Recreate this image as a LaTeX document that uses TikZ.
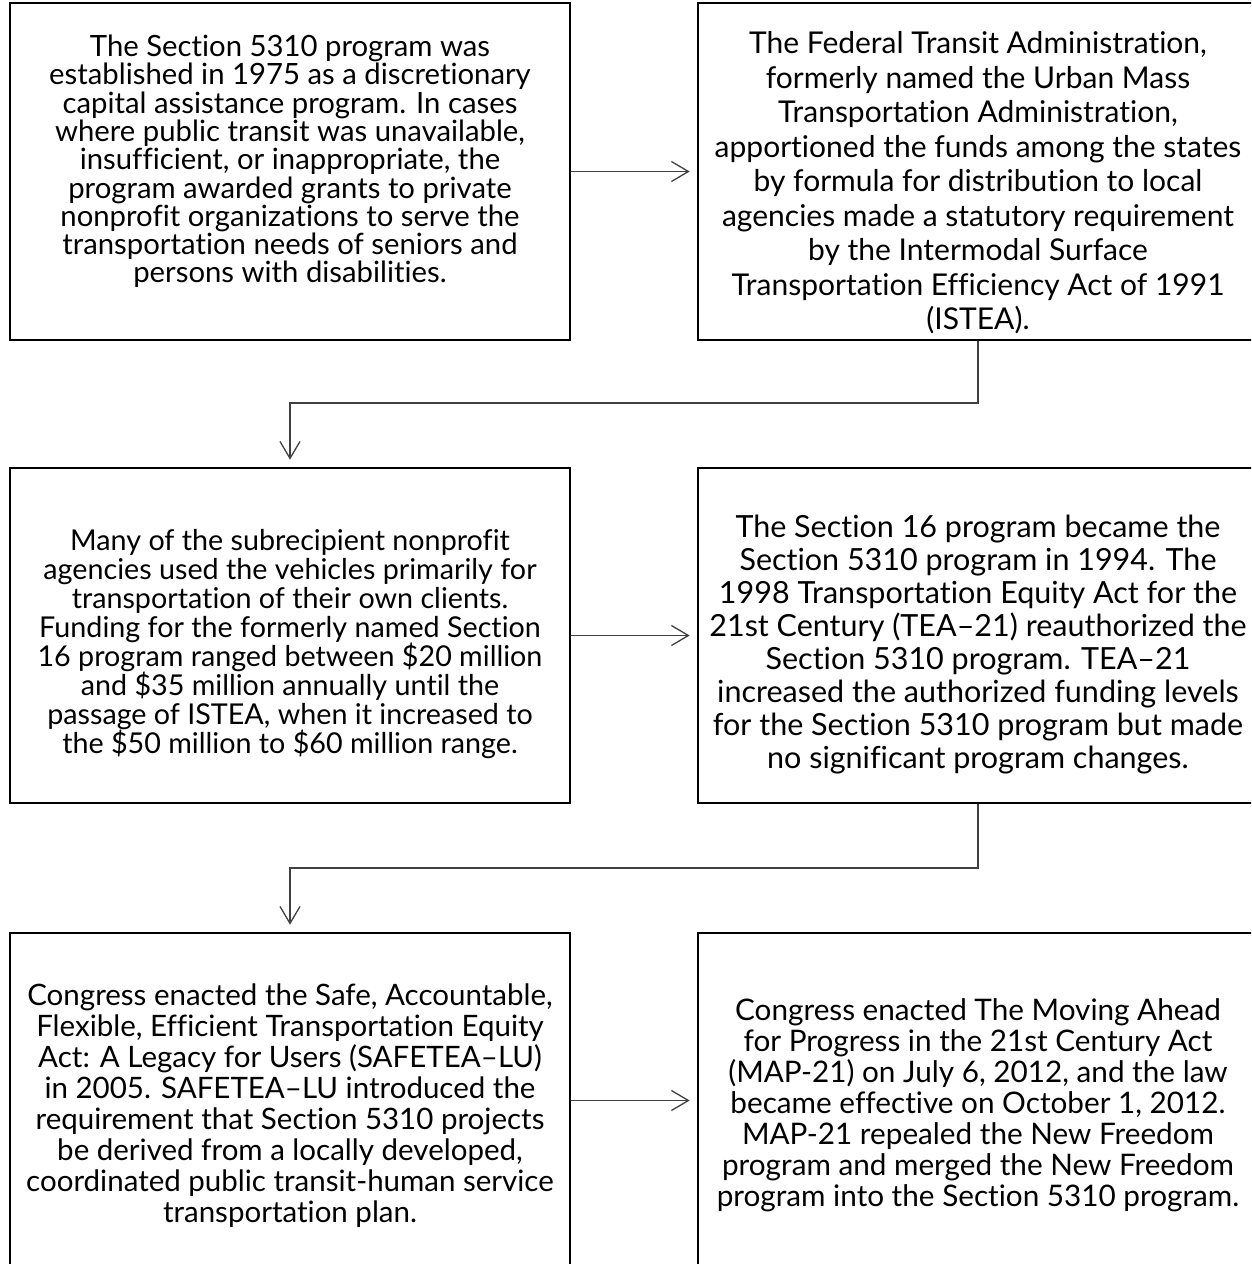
\documentclass[tikz,border=0pt]{standalone}
\usepackage{fontspec}
\setmainfont{Lato}[Ligatures={NoCommon}]
\usetikzlibrary{arrows.meta}
\begin{document}
\begin{tikzpicture}[x=1pt,y=-1pt,
  box/.style={draw=black, line width=2.6pt, minimum width=560pt, inner sep=0pt},
  txt/.style={align=center, inner sep=0pt},
  conn/.style={line width=1.3pt, draw=black!75, -{Straight Barb[length=17pt,width=20pt,line width=1.3pt]}, shorten >=7pt}
]
\useasboundingbox (0,0) rectangle (1251,1264);
\clip (0,0) rectangle (1251,1264);
% boxes
\node[box, minimum height=337pt] (b1) at (290,171.5) {};
\node[box, minimum height=337pt] (b2) at (978,171.5) {};
\node[box, minimum height=335pt] (b3) at (290,635.5) {};
\node[box, minimum height=335pt] (b4) at (978,635.5) {};
\node[box, minimum height=335pt] (b5) at (290,1100.5) {};
\node[box, minimum height=335pt] (b6) at (978,1100.5) {};
% texts
\node[txt, font=\fontsize{29.3}{28.3}\selectfont] (t1) at (290,161.5) {The Section 5310 program was\\established in 1975 as a discretionary\\capital assistance program. In cases\\where public transit was unavailable,\\insufficient, or inappropriate, the\\program awarded grants to private\\nonprofit organizations to serve the\\transportation needs of seniors and\\persons with disabilities.};
\node[txt, font=\fontsize{30}{34.5}\selectfont] (t2) at (978,183) {The Federal Transit Administration,\\formerly named the Urban Mass\\Transportation Administration,\\apportioned the funds among the states\\by formula for distribution to local\\agencies made a statutory requirement\\by the Intermodal Surface\\Transportation Efficiency Act of 1991\\(ISTEA).};
\node[txt, font=\fontsize{28.7}{29}\selectfont] (t3) at (290,644) {Many of the subrecipient nonprofit\\agencies used the vehicles primarily for\\transportation of their own clients.\\Funding for the formerly named Section\\16 program ranged between \$20 million\\and \$35 million annually until the\\passage of ISTEA, when it increased to\\the \$50 million to \$60 million range.};
\node[txt, font=\fontsize{30.5}{33}\selectfont] (t4) at (978,645) {The Section 16 program became the\\Section 5310 program in 1994. The\\1998 Transportation Equity Act for the\\21st Century (TEA–21) reauthorized the\\Section 5310 program. TEA–21\\increased the authorized funding levels\\for the Section 5310 program but made\\no significant program changes.};
\node[txt, font=\fontsize{29.5}{31}\selectfont] (t5) at (290,1106) {Congress enacted the Safe, Accountable,\\Flexible, Efficient Transportation Equity\\Act: A Legacy for Users (SAFETEA–LU)\\in 2005. SAFETEA–LU introduced the\\requirement that Section 5310 projects\\be derived from a locally developed,\\coordinated public transit-human service\\transportation plan.};
\node[txt, font=\fontsize{29.7}{31}\selectfont] (t6) at (978,1105.5) {Congress enacted The Moving Ahead\\for Progress in the 21st Century Act\\(MAP-21) on July 6, 2012, and the law\\became effective on October 1, 2012.\\MAP-21 repealed the New Freedom\\program and merged the New Freedom\\program into the Section 5310 program.};
% connectors
\coordinate (k1) at (978,403);
\coordinate (k2) at (290,403);
\coordinate (k3) at (978,868);
\coordinate (k4) at (290,868);
\draw[conn] (b1.east) -- (b2.west);
\draw[conn] (b2.south) -- (k1) -- (k2) -- (b3.north);
\draw[conn] (b3.east) -- (b4.west);
\draw[conn] (b4.south) -- (k3) -- (k4) -- (b5.north);
\draw[conn] (b5.east) -- (b6.west);
\end{tikzpicture}
\end{document}
